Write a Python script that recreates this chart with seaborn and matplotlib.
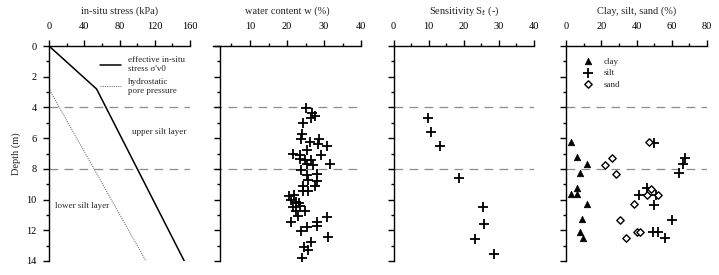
import numpy as np
import pandas as pd
import seaborn as sns
import matplotlib.pyplot as plt
from matplotlib.ticker import MultipleLocator
from matplotlib.lines import Line2D

# -------------------------
# Data
# -------------------------

# in-situ stress profile
eff_depth = [0.0, 2.8, 14.0]
eff_stress = [0.0, 54.0, 153.5]
hyd_depth = [0.0, 2.8, 14.0]
hyd_stress = [0.0, 0.0, 110.0]

# water content
w_depth = [4.06, 4.38, 4.56, 4.71, 5.03, 5.75, 6.05, 6.23, 6.08, 6.38, 6.49, 6.77,
           7.05, 7.10, 7.10, 7.38, 7.42, 7.42, 7.68, 7.75, 7.70, 8.07, 8.40, 8.33,
           8.72, 8.77, 9.10, 9.10, 9.44, 9.44, 9.77, 9.70, 10.03, 10.14, 10.24,
           10.46, 10.40, 10.72, 10.74, 11.07, 11.11, 11.44, 11.44, 11.72, 11.80,
           12.04, 12.41, 12.74, 13.10, 13.28, 13.78]
w_value = [25.0, 26.8, 27.5, 26.6, 24.4, 24.1, 23.7, 26.2, 28.7, 28.4, 30.7, 25.3,
           21.6, 23.5, 29.1, 23.5, 24.8, 26.4, 25.3, 26.9, 31.6, 23.9, 25.3, 28.2,
           25.7, 28.2, 27.5, 24.4, 24.4, 25.6, 20.5, 21.9, 21.2, 22.4, 23.3,
           21.5, 23.5, 22.4, 24.8, 23.0, 30.7, 21.0, 28.0, 28.0, 25.3,
           23.9, 31.2, 26.6, 24.6, 25.6, 24.1]

# sensitivity
st_depth = [4.71, 5.58, 6.49, 8.61, 10.50, 11.59, 12.59, 13.56]
st_value = [9.8, 10.8, 13.3, 18.7, 25.5, 25.8, 23.2, 28.5]

# grain size fractions
clay_depth = [6.23, 7.25, 7.70, 8.29, 9.27, 9.66, 9.66, 10.29, 11.28, 12.09, 12.52]
clay_value = [2.8, 6.1, 12.1, 8.0, 6.1, 2.7, 6.1, 12.1, 8.9, 8.0, 9.5]
silt_depth = [6.29, 7.31, 7.70, 8.29, 9.27, 9.70, 9.72, 10.35, 11.33, 12.09, 12.09, 12.52]
silt_value = [50.2, 67.8, 66.1, 64.2, 45.9, 41.7, 51.2, 50.0, 60.4, 49.6, 52.1, 56.3]
sand_depth = [6.27, 7.31, 7.75, 8.31, 9.33, 9.70, 9.70, 10.31, 11.33, 12.09, 12.09, 12.52]
sand_value = [47.2, 26.0, 22.2, 28.3, 48.2, 45.9, 52.1, 38.3, 30.7, 40.2, 42.1, 34.1]

layer_bounds = [4, 8]

# -------------------------
# Style
# -------------------------
sns.set_theme(style='ticks')
plt.rcParams['font.family'] = ['Liberation Serif', 'DejaVu Serif']
plt.rcParams['font.size'] = 7.5
plt.rcParams['axes.linewidth'] = 1.0

W, H = 719, 275
fig = plt.figure(figsize=(W / 100, H / 100), dpi=100)
top, bot = 46, 261


def make_ax(left, width):
    return fig.add_axes([left / W, 1 - bot / H, width / W, (bot - top) / H])


def style_ax(ax, xlim, major, minor, xlabel, ylabels=False):
    ax.set_xlim(*xlim)
    ax.set_ylim(14, 0)
    ax.xaxis.set_major_locator(MultipleLocator(major))
    ax.xaxis.set_minor_locator(MultipleLocator(minor))
    ax.yaxis.set_major_locator(MultipleLocator(2))
    ax.yaxis.set_minor_locator(MultipleLocator(1))
    ax.xaxis.tick_top()
    ax.xaxis.set_label_position('top')
    for s in ['right', 'bottom']:
        ax.spines[s].set_visible(False)
    for s in ['top', 'left']:
        ax.spines[s].set_color('black')
    ax.tick_params(which='major', length=4, width=1, colors='black', labelsize=7.5, pad=7)
    ax.tick_params(which='minor', length=2.5, width=1, colors='black')
    ax.tick_params(axis='y', labelleft=ylabels, pad=5)
    ax.set_xlabel(xlabel, fontsize=7.5, labelpad=6)
    ax.set_ylabel('')
    for d in layer_bounds:
        ax.axhline(d, color='#8c8c8c', lw=0.9, ls=(0, (7, 5)), zorder=0)


# Panel 1: in-situ stress
ax1 = make_ax(49, 141)
df_eff = pd.DataFrame({'stress': eff_stress, 'depth': eff_depth})
df_hyd = pd.DataFrame({'stress': hyd_stress, 'depth': hyd_depth})
sns.lineplot(data=df_eff, x='stress', y='depth', sort=False, estimator=None,
             color='black', lw=1.1, ax=ax1)
sns.lineplot(data=df_hyd, x='stress', y='depth', sort=False, estimator=None,
             color='#777777', lw=0.8, ls=(0, (1, 1)), ax=ax1)
style_ax(ax1, (0, 160), 40, 20, 'in-situ stress (kPa)', ylabels=True)
ax1.set_ylabel('Depth (m)', fontsize=7.5, labelpad=4)
handles = [Line2D([], [], color='black', lw=1.1),
           Line2D([], [], color='#777777', lw=0.8, ls=(0, (1, 1)))]
ax1.legend(handles, ["effective in-situ\nstress σ'v0", 'hydrostatic\npore pressure'],
           loc='upper right', bbox_to_anchor=(1.02, 0.99), frameon=False,
           fontsize=6.5, handlelength=2.4, handletextpad=0.7, labelspacing=0.5)
ax1.text(125, 5.6, 'upper silt layer', fontsize=6.5, ha='center', va='center')
ax1.text(38, 10.4, 'lower silt layer', fontsize=6.5, ha='center', va='center')

# Panel 2: water content
ax2 = make_ax(213, 148)
df_w = pd.DataFrame({'w': w_value, 'depth': w_depth})
sns.scatterplot(data=df_w, x='w', y='depth', marker='+', s=42, color='black',
                linewidth=1.3, ax=ax2)
style_ax(ax2, (0, 40), 10, 5, 'water content w (%)')
ax2.set_xticks([10, 20, 30, 40])
ax2.set_xticks([5, 15, 25, 35], minor=True)
ax2.spines['left'].set_position(('data', 1.8))

# Panel 3: sensitivity
ax3 = make_ax(393.5, 140.5)
df_st = pd.DataFrame({'st': st_value, 'depth': st_depth})
sns.scatterplot(data=df_st, x='st', y='depth', marker='+', s=42, color='black',
                linewidth=1.3, ax=ax3)
style_ax(ax3, (0, 40), 10, 5, 'Sensitivity S$_t$ (-)')

# Panel 4: clay, silt, sand
ax4 = make_ax(566, 141)
df_clay = pd.DataFrame({'v': clay_value, 'depth': clay_depth})
df_silt = pd.DataFrame({'v': silt_value, 'depth': silt_depth})
df_sand = pd.DataFrame({'v': sand_value, 'depth': sand_depth})
sns.scatterplot(data=df_clay, x='v', y='depth', marker='^', s=22, color='black',
                edgecolor='black', linewidth=0.5, ax=ax4, label='clay')
sns.scatterplot(data=df_silt, x='v', y='depth', marker='+', s=42, color='black',
                linewidth=1.3, ax=ax4, label='silt')
sns.scatterplot(data=df_sand, x='v', y='depth', marker='D', s=14, facecolor='white',
                edgecolor='black', linewidth=1.0, ax=ax4, label='sand')
style_ax(ax4, (0, 80), 20, 10, 'Clay, silt, sand (%)')
ax4.legend(loc='upper left', bbox_to_anchor=(0.07, 0.98), frameon=False, fontsize=6.5,
           handlelength=1.0, handletextpad=1.3, labelspacing=0.35, borderpad=0.3)

fig.savefig('out.png', dpi=100)
